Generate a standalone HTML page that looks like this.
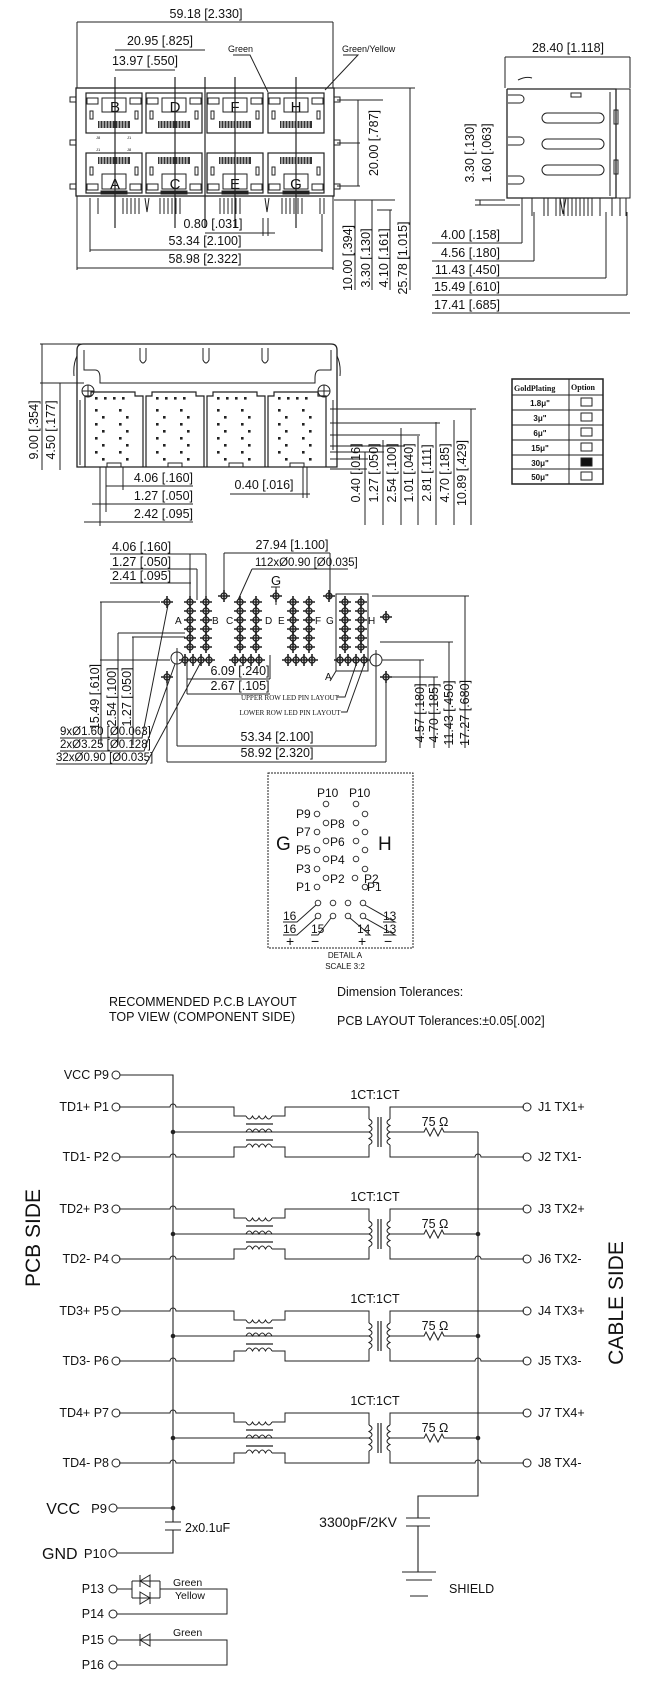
<!DOCTYPE html>
<html><head><meta charset="utf-8"><style>
html,body{margin:0;padding:0;background:#fff}
svg{display:block}
text{font-family:"Liberation Sans",Arial,sans-serif;fill:#111}
.d{font-size:12.5px}
</style></head><body>
<svg width="650" height="1700" viewBox="0 0 650 1700" xmlns="http://www.w3.org/2000/svg" stroke="#222" fill="none" stroke-width="1">
<defs>
 <g id="uport">
  <rect x="0" y="0" width="56" height="40" stroke-width="1.2"/>
  <rect x="1" y="5" width="11" height="6"/><rect x="44" y="5" width="11" height="6"/>
  <rect x="16" y="5" width="24" height="14"/>
  <path d="M4,18v8h3v-8zM49,18v8h3v-8z"/>
  <path d="M12,28h32v7h-32z" fill="#333" stroke="none"/>
  <path d="M14,28v7M17,28v7M20,28v7M23,28v7M26,28v7M29,28v7M32,28v7M35,28v7M38,28v7M41,28v7" stroke="#fff" stroke-width="1"/>
 </g>
 <g id="lport">
  <rect x="0" y="0" width="56" height="40" stroke-width="1.2"/>
  <rect x="1" y="31" width="11" height="6"/><rect x="44" y="31" width="11" height="6"/>
  <rect x="16" y="21" width="24" height="15"/>
  <path d="M4,14v8h3v-8zM49,14v8h3v-8z"/>
  <path d="M12,4h32v7h-32z" fill="#333" stroke="none"/>
  <path d="M14,4v7M17,4v7M20,4v7M23,4v7M26,4v7M29,4v7M32,4v7M35,4v7M38,4v7M41,4v7" stroke="#fff"/>
  <rect x="15" y="38" width="26" height="3" fill="#222"/>
 </g>
 <g id="pinblk">
  <path d="M0,75V4h6v-4h44v4h8v71" stroke-width="1.2"/>
  <g fill="#222" stroke="none">
   <rect x="10" y="5" width="2.6" height="2.6"/><rect x="19" y="5" width="2.6" height="2.6"/><rect x="28" y="5" width="2.6" height="2.6"/><rect x="37" y="5" width="2.6" height="2.6"/>
   <rect x="10" y="17" width="2.6" height="2.6"/><rect x="34" y="17" width="2.6" height="2.6"/>
   <rect x="17" y="24" width="2.6" height="2.6"/><rect x="41" y="24" width="2.6" height="2.6"/>
   <rect x="10" y="31" width="2.6" height="2.6"/><rect x="34" y="31" width="2.6" height="2.6"/>
   <rect x="17" y="38" width="2.6" height="2.6"/><rect x="41" y="38" width="2.6" height="2.6"/>
   <rect x="10" y="45" width="2.6" height="2.6"/><rect x="34" y="45" width="2.6" height="2.6"/>
   <rect x="17" y="52" width="2.6" height="2.6"/><rect x="41" y="52" width="2.6" height="2.6"/>
   <rect x="10" y="59" width="2.6" height="2.6"/><rect x="34" y="59" width="2.6" height="2.6"/>
   <rect x="17" y="66" width="2.6" height="2.6"/><rect x="41" y="66" width="2.6" height="2.6"/>
  </g>
  <rect x="22" y="71" width="14" height="4"/>
 </g>
 <g id="cr"><circle r="3" stroke-width="1.3"/><path d="M-6,0h12M0,-6v12" stroke-width="1.6"/></g>
 <g id="pcol">
  <use href="#cr" y="0"/><use href="#cr" y="9"/><use href="#cr" y="18"/><use href="#cr" y="27"/><use href="#cr" y="36"/><use href="#cr" y="45"/>
 </g>
 <g id="pblock">
  <use href="#pcol" x="0"/><use href="#pcol" x="16"/>
  <use href="#cr" x="-5" y="58"/><use href="#cr" x="3" y="58"/><use href="#cr" x="11" y="58"/><use href="#cr" x="19" y="58"/>
 </g>
 <g id="chan">
  <path d="M119,0H170A3,3 0 0 1 176,0H234V9H246M272,9H285V0H369V12"/>
  <path d="M173,25H369"/>
  <path d="M119,50H170A3,3 0 0 1 176,50H234V40H246M272,40H285V50H369V38"/>
  <path d="M246,9q3.25,6 6.5,0q3.25,6 6.5,0q3.25,6 6.5,0q3.25,6 6.5,0"/>
  <path d="M246,25q3.25,-6 6.5,0q3.25,-6 6.5,0q3.25,-6 6.5,0q3.25,-6 6.5,0"/>
  <path d="M246,40q3.25,-6 6.5,0q3.25,-6 6.5,0q3.25,-6 6.5,0q3.25,-6 6.5,0"/>
  <path d="M246,17H273M246,33H273" stroke-width="1.3"/>
  <path d="M369,12q6,3.25 0,6.5q6,3.25 0,6.5q6,3.25 0,6.5q6,3.25 0,6.5"/>
  <path d="M378,10V40M381,10V40" stroke-width="1.2"/>
  <path d="M390,12q-6,3.25 0,6.5q-6,3.25 0,6.5q-6,3.25 0,6.5q-6,3.25 0,6.5"/>
  <path d="M390,12V0H524M390,38V50H475A3,3 0 0 1 481,50H524"/>
  <path d="M390,25H424l2,-4l4,8l4,-8l4,8l4,-8l2,4H478"/>
  <circle cx="173" cy="25" r="1.8" fill="#222"/>
  <circle cx="116" cy="0" r="4"/><circle cx="116" cy="50" r="4"/>
  <circle cx="527" cy="0" r="4"/><circle cx="527" cy="50" r="4"/>
 </g>
</defs>

<!-- ===== FRONT VIEW ===== -->
<text class="d" x="206" y="18" text-anchor="middle" stroke="none">59.18 [2.330]</text>
<path d="M77,22H333M77,22V88M333,22V88"/>
<text class="d" x="160" y="45" text-anchor="middle" stroke="none">20.95 [.825]</text>
<path d="M115,50H205"/>
<text class="d" x="145" y="65" text-anchor="middle" stroke="none">13.97 [.550]</text>
<path d="M115,70H175"/>
<text x="228" y="52" font-size="9" stroke="none">Green</text>
<path d="M233,55H250L268,92"/>
<text x="342" y="52" font-size="9" stroke="none">Green/Yellow</text>
<path d="M343,55H358L325,90"/>
<rect x="76" y="88" width="258" height="108" stroke-width="1.3"/>
<path d="M70,97h6v5h-6zM70,140h6v5h-6zM70,184h6v5h-6zM334,97h6v5h-6zM334,140h6v5h-6zM334,184h6v5h-6z"/>
<use href="#uport" x="86" y="93"/><use href="#uport" x="146" y="93"/><use href="#uport" x="207" y="93"/><use href="#uport" x="268" y="93"/>
<use href="#lport" x="86" y="153"/><use href="#lport" x="146" y="153"/><use href="#lport" x="207" y="153"/><use href="#lport" x="268" y="153"/>
<g font-size="15" text-anchor="middle" stroke="none">
<text x="115" y="112">B</text><text x="175" y="112">D</text><text x="235" y="112">F</text><text x="296" y="112">H</text>
<text x="115" y="189">A</text><text x="175" y="189">C</text><text x="235" y="189">E</text><text x="296" y="189">G</text>
</g>
<g font-size="4" stroke="none"><text x="96" y="139">J8</text><text x="127" y="139">J1</text><text x="96" y="151">J1</text><text x="127" y="151">J8</text></g>
<path d="M115,77V228M175,77V228M205,77V228M235,77V228M296,77V228" stroke-width="1.2"/>
<path d="M77,196V218M333,196V218M90,198V214M98,198V214M123,198V214M127,198V214M131,198V214M135,198V214M139,198V214M160,198V214M164,198V214M168,198V214M172,198V214M176,198V214M180,198V214M220,198V214M224,198V214M228,198V214M232,198V214M236,198V214M240,198V214M282,198V214M286,198V214M290,198V214M294,198V214M298,198V214M302,198V214M320,198V214M324,198V214M145,198l2,14l2,-14M265,198l2,14l2,-14"/>
<text class="d" x="213" y="228" text-anchor="middle" stroke="none">0.80 [.031]</text>
<path d="M205,233H275M263,218V236M268,218V236"/>
<text class="d" x="205" y="245" text-anchor="middle" stroke="none">53.34 [2.100]</text>
<path d="M90,250H322M90,214V252M322,214V252"/>
<text class="d" x="205" y="263" text-anchor="middle" stroke="none">58.98 [2.322]</text>
<path d="M77,268H333M77,218V270M333,218V270"/>
<path d="M337,100H383M337,143H360M337,186H360M358,100V186"/>
<text class="d" transform="translate(378,143) rotate(-90)" text-anchor="middle" stroke="none">20.00 [.787]</text>
<path d="M334,88H415M334,200H395M355,200V290M372,200V290M390,210V290M410,88V290M377,210H392"/>
<g class="d" stroke="none" text-anchor="middle">
<text transform="translate(352,258) rotate(-90)">10.00 [.394]</text>
<text transform="translate(370,258) rotate(-90)">3.30 [.130]</text>
<text transform="translate(388,258) rotate(-90)">4.10 [.161]</text>
<text transform="translate(407,258) rotate(-90)">25.78 [1.015]</text>
</g>

<!-- ===== SIDE VIEW ===== -->
<text class="d" x="568" y="52" text-anchor="middle" stroke="none">28.40 [1.118]</text>
<path d="M505,57H630M505,57V88M630,57V88"/>
<path d="M507,89H616V198M507,89V198H616" stroke-width="1.3"/>
<path d="M616,89H630V198H616M610,92V196M518,80q8,-4 14,-2"/>
<rect x="542" y="113" width="62" height="10" rx="5"/><rect x="542" y="139" width="62" height="10" rx="5"/><rect x="542" y="165" width="62" height="10" rx="5"/>
<rect x="614" y="110" width="4" height="14"/><rect x="614" y="160" width="4" height="14"/>
<rect x="571" y="93" width="10" height="4"/>
<path d="M508,95h12a3,3 0 0 1 0,8h-12M508,137h12a3,3 0 0 1 0,8h-12M508,176h12a3,3 0 0 1 0,8h-12"/>
<path d="M532,198V216M544,198V216M600,198V216M612,198V216M620,198V216M626,198V216M548,198V216M556,198V216M560,198V216M564,198V216M568,198V216M572,198V216M576,198V216M580,198V216M584,198V216M588,198V216M592,198V216M522,198V216M560,198l3,16l3,-16"/>
<path d="M475,200H505M475,205H520M480,200V205"/>
<g class="d" stroke="none" text-anchor="middle">
<text transform="translate(474,153) rotate(-90)">3.30 [.130]</text>
<text transform="translate(491,153) rotate(-90)">1.60 [.063]</text>
</g>
<g class="d" stroke="none" text-anchor="end">
<text x="500" y="239">4.00 [.158]</text><text x="500" y="257">4.56 [.180]</text><text x="500" y="274">11.43 [.450]</text><text x="500" y="291">15.49 [.610]</text><text x="500" y="309">17.41 [.685]</text>
</g>
<path d="M432,243H522M432,261H534M432,278H606M432,295H627M432,313H630M522,205V243M534,212V261M606,212V278M627,212V295"/>

<!-- ===== BACK VIEW ===== -->
<path d="M40,344H84M40,383H84M42,344V470M60,383V470"/>
<g class="d" stroke="none" text-anchor="middle">
<text transform="translate(38,430) rotate(-90)">9.00 [.354]</text>
<text transform="translate(55,430) rotate(-90)">4.50 [.177]</text>
</g>
<path d="M77,467V350q0,-6 6,-6H331q6,0 6,6V467Z" stroke-width="1.3"/>
<path d="M84,350V370H95q5,0 5,8V383H315V378q0,-8 5,-8H331V350"/>
<path d="M77,356q-4,8 -3,20M337,356q4,8 3,20"/>
<path d="M140,348v12q3,6 6,0v-12M203,348v12q3,6 6,0v-12M262,348v12q3,6 6,0v-12"/>
<circle cx="88" cy="391" r="6"/><circle cx="324" cy="391" r="6"/>
<path d="M82,391h12M88,385v12M318,391h12M324,385v12"/>
<path d="M80,400V465M333,400V450"/>
<use href="#pinblk" x="85" y="392"/><use href="#pinblk" x="146" y="392"/><use href="#pinblk" x="207" y="392"/><use href="#pinblk" x="268" y="392"/>
<g class="d" stroke="none" text-anchor="end">
<text x="193" y="482">4.06 [.160]</text><text x="193" y="500">1.27 [.050]</text><text x="193" y="518">2.42 [.095]</text>
</g>
<path d="M106,486H193M92,504H193M84,522H193M100,467V526M106,467V512M123,467V490"/>
<text class="d" x="264" y="489" text-anchor="middle" stroke="none">0.40 [.016]</text>
<path d="M230,494H310M303,467V498M307,467V498"/>
<path d="M330,409H476M330,423H440M330,435H420M330,446H405M330,452H384M330,459H368M330,469H367"/>
<path d="M365,452V525M383,440V525M401,428V525M418,436V525M436,422V525M454,420V525M471,409V525"/>
<g class="d" stroke="none" text-anchor="middle">
<text transform="translate(360,473) rotate(-90)">0.40 [.016]</text>
<text transform="translate(378,473) rotate(-90)">1.27 [.050]</text>
<text transform="translate(396,473) rotate(-90)">2.54 [.100]</text>
<text transform="translate(413,473) rotate(-90)">1.01 [.040]</text>
<text transform="translate(431,473) rotate(-90)">2.81 [.111]</text>
<text transform="translate(449,473) rotate(-90)">4.70 [.185]</text>
<text transform="translate(466,473) rotate(-90)">10.89 [.429]</text>
</g>

<!-- table -->
<rect x="512" y="379" width="91" height="105" stroke-width="1.5"/>
<path d="M569,379V484M512,395H603M512,410H603M512,425H603M512,440H603M512,455H603M512,469H603"/>
<g font-size="8" font-weight="bold" stroke="none">
<text x="514" y="391" style="font-family:'Liberation Serif',serif">GoldPlating</text><text x="571" y="390" style="font-family:'Liberation Serif',serif">Option</text>
<g text-anchor="middle" style="font-family:'Liberation Serif',serif">
<text x="540" y="406">1.8μ"</text><text x="540" y="421">3μ"</text><text x="540" y="436">6μ"</text><text x="540" y="451">15μ"</text><text x="540" y="466">30μ"</text><text x="540" y="480">50μ"</text>
</g></g>
<rect x="581" y="398" width="11" height="8"/><rect x="581" y="413" width="11" height="8"/><rect x="581" y="428" width="11" height="8"/><rect x="581" y="443" width="11" height="8"/><rect x="581" y="458" width="11" height="8" fill="#111"/><rect x="581" y="472" width="11" height="8"/>

<!-- ===== PCB LAYOUT ===== -->
<g class="d" stroke="none">
<text x="112" y="551">4.06 [.160]</text><text x="112" y="566">1.27 [.050]</text><text x="112" y="580">2.41 [.095]</text>
</g>
<path d="M110,554H206M110,569H197M110,583H191M190,554V600M206,554V600M197,569V600"/>
<text class="d" x="292" y="549" text-anchor="middle" stroke="none">27.94 [1.100]</text>
<path d="M224,553H330M224,553V598M330,553V598"/>
<text x="255" y="566" font-size="11.5" stroke="none">112xØ0.90 [Ø0.035]</text>
<path d="M252,569H348M252,569L238,600"/>
<text x="271" y="585" font-size="13" stroke="none">G</text><path d="M271,587h9M276,587v18"/>
<use href="#cr" x="167" y="602"/><use href="#cr" x="167" y="677"/><use href="#cr" x="224" y="596"/><use href="#cr" x="276" y="596"/><use href="#cr" x="329" y="596"/><use href="#cr" x="386" y="617"/><use href="#cr" x="386" y="677"/>
<use href="#pblock" x="190" y="602"/><use href="#pblock" x="240" y="602"/><use href="#pblock" x="293" y="602"/><use href="#pblock" x="345" y="602"/>
<circle cx="177" cy="658" r="6"/><path d="M177,648v20"/><circle cx="376" cy="660" r="6"/><path d="M376,650v20"/>
<rect x="336" y="594" width="32" height="77"/>
<g font-size="10" stroke="none"><text x="175" y="624">A</text><text x="212" y="624">B</text><text x="226" y="624">C</text><text x="265" y="624">D</text><text x="278" y="624">E</text><text x="315" y="624">F</text><text x="326" y="624">G</text><text x="368" y="624">H</text></g>
<text x="325" y="680" font-size="10" stroke="none">A</text><path d="M330,681L336,671"/>
<path d="M100,602H160M100,660H170M118,633H185M132,637H185"/>
<path d="M101,602V745M118,633V745M133,637V745"/>
<g class="d" stroke="none" text-anchor="middle">
<text transform="translate(99,697) rotate(-90)">15.49 [.610]</text>
<text transform="translate(116,697) rotate(-90)">2.54 [.100]</text>
<text transform="translate(131,697) rotate(-90)">1.27 [.050]</text>
</g>
<text class="d" x="240" y="675" text-anchor="middle" stroke="none">6.09 [.240]</text>
<path d="M187,679H270M270,655V679"/>
<text class="d" x="240" y="690" text-anchor="middle" stroke="none">2.67 [.105]</text>
<path d="M187,694H270M187,660V694"/>
<text x="290" y="700" font-size="7" text-anchor="middle" style="font-family:'Liberation Serif',serif" stroke="none">UPPER ROW LED PIN LAYOUT</text>
<path d="M337,697H345L357,662"/>
<text x="290" y="715" font-size="7" text-anchor="middle" style="font-family:'Liberation Serif',serif" stroke="none">LOWER ROW LED PIN LAYOUT</text>
<path d="M341,712H347L365,662"/>
<g font-size="11.5" stroke="none"><text x="60" y="735">9xØ1.60 [Ø0.063]</text><text x="60" y="748">2xØ3.25 [Ø0.128]</text><text x="56" y="761">32xØ0.90 [Ø0.035]</text></g>
<path d="M60,738H142L168,605M60,751H144L175,664M56,764H146L202,660"/>
<text class="d" x="277" y="741" text-anchor="middle" stroke="none">53.34 [2.100]</text>
<path d="M177,746H376M177,664V746M376,666V746"/>
<text class="d" x="277" y="757" text-anchor="middle" stroke="none">58.92 [2.320]</text>
<path d="M167,762H386M167,683V762M386,683V762"/>
<path d="M382,660H424M392,677H438M380,642H453M372,596H469M420,660V748M434,677V748M449,642V748M465,596V748"/>
<g class="d" stroke="none" text-anchor="middle">
<text transform="translate(424,713) rotate(-90)">4.57 [.180]</text>
<text transform="translate(438,713) rotate(-90)">4.70 [.185]</text>
<text transform="translate(453,713) rotate(-90)">11.43 [.450]</text>
<text transform="translate(469,713) rotate(-90)">17.27 [.680]</text>
</g>

<!-- ===== DETAIL A ===== -->
<rect x="268" y="773" width="145" height="175" stroke-dasharray="2,1"/>
<g stroke-width="0.9">
<circle cx="326" cy="804" r="2.8"/><circle cx="356" cy="804" r="2.8"/>
<circle cx="317" cy="814" r="2.8"/><circle cx="365" cy="814" r="2.8"/>
<circle cx="326" cy="823" r="2.8"/><circle cx="356" cy="823" r="2.8"/>
<circle cx="317" cy="832" r="2.8"/><circle cx="365" cy="832" r="2.8"/>
<circle cx="326" cy="841" r="2.8"/><circle cx="356" cy="841" r="2.8"/>
<circle cx="317" cy="850" r="2.8"/><circle cx="365" cy="850" r="2.8"/>
<circle cx="326" cy="859" r="2.8"/><circle cx="356" cy="859" r="2.8"/>
<circle cx="317" cy="869" r="2.8"/><circle cx="365" cy="869" r="2.8"/>
<circle cx="326" cy="878" r="2.8"/><circle cx="355" cy="878" r="2.8"/>
<circle cx="317" cy="887" r="2.8"/><circle cx="365" cy="887" r="2.8"/>
<circle cx="318" cy="903" r="2.8"/><circle cx="333" cy="903" r="2.8"/><circle cx="348" cy="903" r="2.8"/><circle cx="363" cy="903" r="2.8"/>
<circle cx="318" cy="916" r="2.8"/><circle cx="333" cy="916" r="2.8"/><circle cx="348" cy="916" r="2.8"/><circle cx="363" cy="916" r="2.8"/>
</g>
<g font-size="12" stroke="none">
<text x="317" y="797">P10</text><text x="349" y="797">P10</text>
<text x="296" y="818">P9</text><text x="330" y="828">P8</text>
<text x="296" y="836">P7</text><text x="330" y="846">P6</text>
<text x="296" y="854">P5</text><text x="330" y="864">P4</text>
<text x="296" y="873">P3</text><text x="330" y="883">P2</text><text x="364" y="883">P2</text>
<text x="296" y="891">P1</text><text x="367" y="891">P1</text>
<text x="276" y="850" font-size="19">G</text><text x="378" y="850" font-size="19">H</text>
<text x="283" y="920">16</text><text x="283" y="933">16</text><text x="311" y="933">15</text><text x="357" y="933">14</text><text x="383" y="920">13</text><text x="383" y="933">13</text>
<text x="286" y="946" font-size="14">+</text><text x="311" y="946" font-size="14">−</text><text x="358" y="946" font-size="14">+</text><text x="384" y="946" font-size="14">−</text>
</g>
<path d="M283,922H297L316,905M283,935H297L316,918M311,935H318L331,918M365,935H370L350,918M383,922H395L365,905M383,935H395L365,918"/>
<text x="345" y="958" font-size="8" text-anchor="middle" stroke="none">DETAIL A</text>
<text x="345" y="969" font-size="8" text-anchor="middle" stroke="none">SCALE 3:2</text>
<text x="337" y="996" font-size="12.5" stroke="none">Dimension Tolerances:</text>
<text x="337" y="1025" font-size="12.5" stroke="none">PCB LAYOUT Tolerances:±0.05[.002]</text>
<text x="109" y="1006" font-size="12.5" stroke="none">RECOMMENDED P.C.B LAYOUT</text>
<text x="109" y="1021" font-size="12.5" stroke="none">TOP VIEW (COMPONENT SIDE)</text>

<!-- ===== SCHEMATIC ===== -->
<path d="M120,1075H173V1522M165,1522H181M165,1530H181M173,1530V1553H117" stroke-width="1.1"/>
<circle cx="116" cy="1075" r="4"/>
<use href="#chan" y="1107"/><use href="#chan" y="1209"/><use href="#chan" y="1311"/><use href="#chan" y="1413"/>
<path d="M478,1132V1496H418V1518M406,1518H430M406,1526H430M418,1526V1572M402,1572H436M406,1580H432M410,1596H428" stroke-width="1.1"/>
<circle cx="478" cy="1234" r="1.8" fill="#222"/><circle cx="478" cy="1336" r="1.8" fill="#222"/><circle cx="478" cy="1438" r="1.8" fill="#222"/>
<circle cx="173" cy="1508" r="1.8" fill="#222"/>
<path d="M117,1508H173"/>
<circle cx="113" cy="1508" r="4"/><circle cx="113" cy="1553" r="4"/>
<g font-size="12.5" stroke="none" text-anchor="end">
<text x="109" y="1079">VCC P9</text>
<text x="109" y="1111">TD1+ P1</text><text x="109" y="1161">TD1-  P2</text>
<text x="109" y="1213">TD2+ P3</text><text x="109" y="1263">TD2-  P4</text>
<text x="109" y="1315">TD3+ P5</text><text x="109" y="1365">TD3-  P6</text>
<text x="109" y="1417">TD4+ P7</text><text x="109" y="1467">TD4-  P8</text>
</g>
<g font-size="12.5" stroke="none">
<text x="538" y="1111">J1 TX1+</text><text x="538" y="1161">J2 TX1-</text>
<text x="538" y="1213">J3 TX2+</text><text x="538" y="1263">J6 TX2-</text>
<text x="538" y="1315">J4  TX3+</text><text x="538" y="1365">J5 TX3-</text>
<text x="538" y="1417">J7 TX4+</text><text x="538" y="1467">J8 TX4-</text>
</g>
<g font-size="12.5" stroke="none" text-anchor="middle">
<text x="375" y="1099">1CT:1CT</text><text x="375" y="1201">1CT:1CT</text><text x="375" y="1303">1CT:1CT</text><text x="375" y="1405">1CT:1CT</text>
<text x="435" y="1126">75 Ω</text><text x="435" y="1228">75 Ω</text><text x="435" y="1330">75 Ω</text><text x="435" y="1432">75 Ω</text>
</g>
<text x="80" y="1514" font-size="16" text-anchor="end" stroke="none">VCC</text>
<text x="107" y="1513" font-size="13" text-anchor="end" stroke="none">P9</text>
<text x="42" y="1559" font-size="16" stroke="none">GND</text>
<text x="107" y="1558" font-size="13" text-anchor="end" stroke="none">P10</text>
<text x="185" y="1532" font-size="12.5" stroke="none">2x0.1uF</text>
<text x="397" y="1527" font-size="14" text-anchor="end" stroke="none">3300pF/2KV</text>
<text x="449" y="1593" font-size="12.5" stroke="none">SHIELD</text>
<text transform="translate(40,1238) rotate(-90)" font-size="21" text-anchor="middle" stroke="none">PCB SIDE</text>
<text transform="translate(623,1303) rotate(-90)" font-size="21" text-anchor="middle" stroke="none">CABLE SIDE</text>
<!-- LEDs -->
<circle cx="113" cy="1589" r="4"/><circle cx="113" cy="1614" r="4"/><circle cx="113" cy="1640" r="4"/><circle cx="113" cy="1665" r="4"/>
<path d="M117,1589H132M132,1581V1598M160,1581V1598M160,1589H227V1614H117"/>
<path d="M132,1581H160M132,1598H160"/>
<path d="M150,1575l-10,6l10,6zM140,1575v12M140,1592l10,6l-10,6zM150,1592v12"/>
<path d="M117,1640H227V1665H117M150,1634l-10,6l10,6zM140,1634v12"/>
<g font-size="10.5" stroke="none"><text x="173" y="1586">Green</text><text x="175" y="1599">Yellow</text><text x="173" y="1636">Green</text></g>
<g font-size="12.5" stroke="none" text-anchor="end"><text x="104" y="1593">P13</text><text x="104" y="1618">P14</text><text x="104" y="1644">P15</text><text x="104" y="1669">P16</text></g>
</svg>
</body></html>
